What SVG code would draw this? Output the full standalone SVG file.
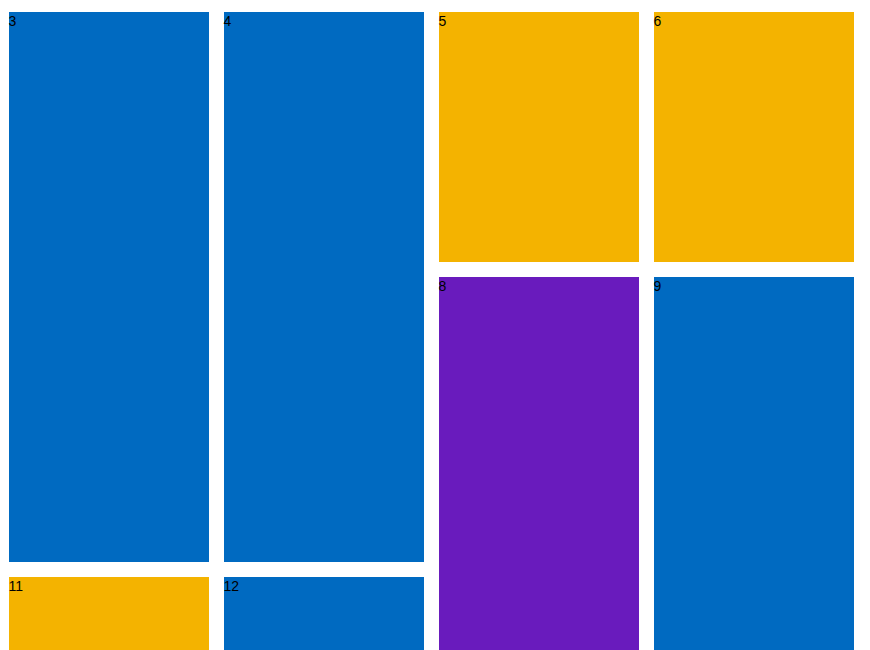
<svg xmlns="http://www.w3.org/2000/svg" width="870" height="650" viewBox="0 0 870 650">
<style>
.b{fill:#006ac1}.y{fill:#f4b300}.p{fill:#691bbd}
text{font-family:"Liberation Sans",Arial,sans-serif;font-size:14px;fill:#000}
</style>
<rect width="870" height="650" fill="#fff"/>
<g id="n3"><rect class="b" x="9" y="12" width="200" height="550"/><text x="8.5" y="26">3</text></g>
<g id="n4"><rect class="b" x="224" y="12" width="200" height="550"/><text x="223.5" y="26">4</text></g>
<g id="n5"><rect class="y" x="439" y="12" width="200" height="250"/><text x="438.5" y="26">5</text></g>
<g id="n6"><rect class="y" x="654" y="12" width="200" height="250"/><text x="653.5" y="26">6</text></g>
<g id="n8"><rect class="p" x="439" y="277" width="200" height="373"/><text x="438.5" y="291">8</text></g>
<g id="n9"><rect class="b" x="654" y="277" width="200" height="373"/><text x="653.5" y="291">9</text></g>
<g id="n11"><rect class="y" x="9" y="577" width="200" height="73"/><text x="8.5" y="591">11</text></g>
<g id="n12"><rect class="b" x="224" y="577" width="200" height="73"/><text x="223.5" y="591">12</text></g>
<g id="connectors"/>
</svg>
